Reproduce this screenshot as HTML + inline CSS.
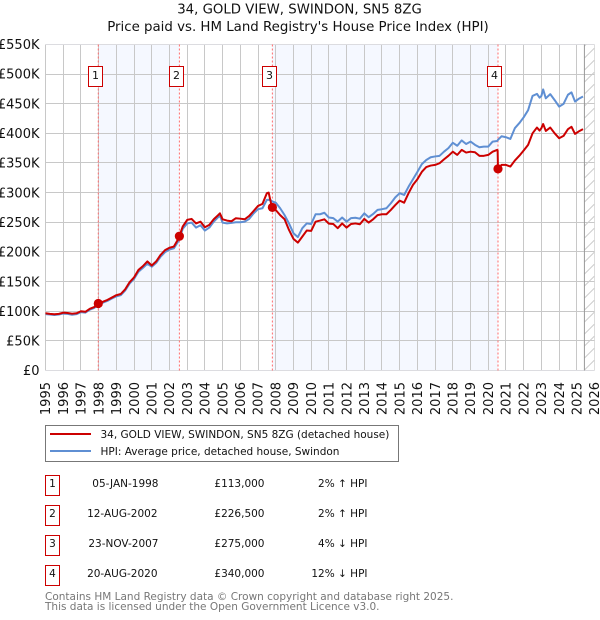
<!DOCTYPE html>
<html lang="en">
<head>
<meta charset="utf-8">
<title>34, GOLD VIEW, SWINDON, SN5 8ZG</title>
<style>
html,body{margin:0;padding:0;background:#fff;width:600px;height:620px;overflow:hidden}
svg{display:block;font-family:"DejaVu Sans","Liberation Sans",sans-serif}
</style>
</head>
<body>
<svg id="chart" width="600" height="620" viewBox="0 0 600 620">
  <defs>
    <pattern id="hatch" x="6.5" y="0" width="12" height="12" patternUnits="userSpaceOnUse">
      <line x1="0" y1="12" x2="12" y2="0" stroke="#cccccc" stroke-width="1"/>
    </pattern>
  </defs>
  <text x="299.5" y="13.5" text-anchor="middle" font-size="13.3" fill="#111">34, GOLD VIEW, SWINDON, SN5 8ZG</text>
  <text x="298" y="31" text-anchor="middle" font-size="13.35" fill="#111">Price paid vs. HM Land Registry's House Price Index (HPI)</text>
  <g id="shade"></g>
  <g id="grid"></g>
  <g id="hatchLayer"></g>
  <g id="saleLines"></g>
  <g id="series"></g>
  <g id="markers"></g>
  <g id="boxes"></g>
  <g id="yTicks" font-size="13" fill="#111"></g>
  <g id="xTicks" font-size="13" fill="#111"></g>

  <g>
    <rect x="45.5" y="425.5" width="353" height="36" fill="#fff" stroke="#777" stroke-width="1"/>
    <line x1="50" y1="434" x2="91" y2="434" stroke="#cc0000" stroke-width="2"/>
    <text x="100.5" y="438" font-size="10.5" fill="#111">34, GOLD VIEW, SWINDON, SN5 8ZG (detached house)</text>
    <line x1="50" y1="451" x2="91" y2="451" stroke="#5f8fd3" stroke-width="2"/>
    <text x="100.5" y="455" font-size="10.5" fill="#111">HPI: Average price, detached house, Swindon</text>
  </g>

  <g font-size="10.5" fill="#111">
    <g>
      <rect x="45.5" y="475.5" width="14" height="20" fill="#fff" stroke="#cc0000"/>
      <text x="52.5" y="487" text-anchor="middle">1</text>
      <text x="158.5" y="487" text-anchor="end">05-JAN-1998</text>
      <text x="264.5" y="487" text-anchor="end">£113,000</text>
      <text x="367.5" y="487" text-anchor="end">2% ↑ HPI</text>
    </g>
    <g>
      <rect x="45.5" y="505.5" width="14" height="20" fill="#fff" stroke="#cc0000"/>
      <text x="52.5" y="517" text-anchor="middle">2</text>
      <text x="157.5" y="517" text-anchor="end">12-AUG-2002</text>
      <text x="264.5" y="517" text-anchor="end">£226,500</text>
      <text x="367.5" y="517" text-anchor="end">2% ↑ HPI</text>
    </g>
    <g>
      <rect x="45.5" y="535.5" width="14" height="20" fill="#fff" stroke="#cc0000"/>
      <text x="52.5" y="547" text-anchor="middle">3</text>
      <text x="158.5" y="547" text-anchor="end">23-NOV-2007</text>
      <text x="264.5" y="547" text-anchor="end">£275,000</text>
      <text x="367.5" y="547" text-anchor="end">4% ↓ HPI</text>
    </g>
    <g>
      <rect x="45.5" y="565.5" width="14" height="20" fill="#fff" stroke="#cc0000"/>
      <text x="52.5" y="577" text-anchor="middle">4</text>
      <text x="157.5" y="577" text-anchor="end">20-AUG-2020</text>
      <text x="264.5" y="577" text-anchor="end">£340,000</text>
      <text x="367.5" y="577" text-anchor="end">12% ↓ HPI</text>
    </g>
  </g>

  <text x="45" y="600" font-size="10.5" fill="#777">Contains HM Land Registry data © Crown copyright and database right 2025.</text>
  <text x="45" y="610" font-size="10.5" fill="#777">This data is licensed under the Open Government Licence v3.0.</text>
</svg>
<script>
var yearTicks = [1995,1996,1997,1998,1999,2000,2001,2002,2003,2004,2005,2006,2007,2008,2009,2010,2011,2012,2013,2014,2015,2016,2017,2018,2019,2020,2021,2022,2023,2024,2025,2026];
var priceTicks = [0,50,100,150,200,250,300,350,400,450,500,550];
var priceTickLabels = ['£0','£50K','£100K','£150K','£200K','£250K','£300K','£350K','£400K','£450K','£500K','£550K'];

var dates = [
  1995,1995.25,1995.5,1995.75,
  1996,1996.25,1996.5,1996.75,
  1997,1997.25,1997.5,1997.75,
  1998,1998.25,1998.5,1998.75,
  1999,1999.25,1999.5,1999.75,
  2000,2000.25,2000.5,2000.75,
  2001,2001.25,2001.5,2001.75,
  2002,2002.25,2002.5,2002.56,2002.75,
  2003,2003.25,2003.5,2003.75,
  2004,2004.25,2004.5,2004.75,2004.85,
  2005,2005.25,2005.5,2005.75,
  2006,2006.25,2006.5,2006.75,
  2007,2007.25,2007.5,2007.6,2007.75,2007.81,
  2008,2008.25,2008.5,2008.75,
  2009,2009.25,2009.5,2009.75,
  2010,2010.25,2010.5,2010.75,
  2011,2011.25,2011.5,2011.75,
  2012,2012.25,2012.5,2012.75,
  2013,2013.25,2013.5,2013.75,
  2014,2014.25,2014.5,2014.75,
  2015,2015.25,2015.5,2015.75,
  2016,2016.25,2016.5,2016.75,
  2017,2017.25,2017.5,2017.75,
  2018,2018.25,2018.5,2018.75,
  2019,2019.25,2019.5,2019.75,
  2020,2020.25,2020.5,2020.53,2020.55,2020.75,
  2021,2021.25,2021.5,2021.75,
  2022,2022.25,2022.5,2022.75,2022.9,
  2023,2023.1,2023.25,2023.5,2023.75,
  2024,2024.25,2024.5,2024.7,2024.9,
  2025.1,2025.35
];
var priceSeries = [
  96.5,95.5,94.8,95.5,
  97.5,97,95.8,96.5,
  99.9,99,104,107,
  112.7,116,119,123,
  127,129,137,149,
  157,169.6,176,184,
  177,184,195,203,
  207,209,222,226.5,243,
  254,255.6,248,251,
  241.6,245.5,255,262,265,
  255,252.8,251.7,256.8,
  256,255,260.6,269,
  277.5,281,299,300,280,275,
  270.6,262,255,237,
  222,215.6,225.8,236,
  235.4,251,252.8,255,
  247.7,247,240,248,
  241,247,248,246.6,
  255.6,249.4,255,262,
  263.5,263.5,270.8,279,
  286.5,283,299,313,
  322.6,335,343,345.6,
  346.7,349.5,356,362,
  369,363.6,372,367.5,
  369,368,362,362,
  363.6,369,372,371,340,346.7,
  346.7,344,354,362,
  371,380.5,400,409.7,404.6,
  408.6,415.7,404,409.7,400,
  391.7,395.6,407,411,399,
  403,407
];
var hpiSeries = [
  95,94.5,93.5,94.5,
  96,95.5,94,95,
  98.5,97.5,102.5,105.5,
  110.5,114.5,117.5,121.5,
  125,127,135,146.5,
  154.5,166.5,173,180,
  175,181.5,192,199.5,
  204,206,218,222,239,
  248,249.4,241,245,
  236,241,251,258.5,261,
  249.4,248,249,250,
  250,251,255.6,265,
  272,273.6,287.7,288,286.5,285,
  283,273.6,262,248,
  231.5,225,240,248,
  247,263.5,263.5,266,
  258,257,251,258,
  251,257,257.6,256,
  265,258.5,264,270.8,
  272,273.6,282,292,
  299,296,310,322.6,
  335,348,355,359.6,
  361,362,369,375,
  384,379,388,382,
  386,380.5,376.5,377.6,
  377.6,386,387,388,389,395,
  393.4,390.5,408.6,417,
  427,439,463,466.5,460,
  463,474,459,466,456,
  445,449.5,465,469,453.5,
  458,462
];
var saleDates = [1997.98,2002.56,2007.81,2020.55];
var salePrices = [113,226.5,275,340];
var saleNumbers = ['1','2','3','4'];
var forecastStart = 2025.43;

var NS = 'http://www.w3.org/2000/svg';
function xAxis(year){ return 45.5 + (year - 1995) * 17.71; }
function yAxis(k){ return 370.5 - k * 0.593; }
function crisp(v){ return Math.floor(v) + 0.5; }
function node(tag, parent){
  var el = document.createElementNS(NS, tag);
  document.getElementById(parent).appendChild(el);
  return el;
}

var plotTop = crisp(yAxis(550)), plotBottom = crisp(yAxis(0));
var plotLeft = crisp(xAxis(1995)), plotRight = crisp(xAxis(2026));

// shaded spans: sale 1 to sale 2, sale 3 to sale 4
[[0,1],[2,3]].forEach(function(p){
  var r = node('rect','shade');
  
  
  r.setAttribute('x', xAxis(saleDates[p[0]]));
  r.setAttribute('y', plotTop);
  r.setAttribute('width', xAxis(saleDates[p[1]]) - xAxis(saleDates[p[0]]));
  r.setAttribute('height', plotBottom - plotTop);
  r.setAttribute('fill', '#f5f8ff');
});

yearTicks.forEach(function(year){
  var l = node('line','grid');
  
  
  var x = crisp(xAxis(year));
  l.setAttribute('x1', x); l.setAttribute('x2', x);
  l.setAttribute('y1', plotTop); l.setAttribute('y2', plotBottom);
  l.setAttribute('stroke', year === 2026 ? '#dddddd' : '#c8c8c8');
  var t = node('text','xTicks');
  
  
  t.setAttribute('text-anchor', 'end');
  t.setAttribute('transform', 'translate(' + (xAxis(year) + 4.7) + ',382) rotate(-90)');
  t.textContent = String(year);
});

priceTicks.forEach(function(k, i){
  var l = node('line','grid');
  
  
  var y = crisp(yAxis(k));
  l.setAttribute('x1', plotLeft); l.setAttribute('x2', plotRight);
  l.setAttribute('y1', y); l.setAttribute('y2', y);
  l.setAttribute('stroke', (k === 0 || k === 550) ? '#dcdce0' : '#c8c8c8');
  var t = node('text','yTicks');
  
  
  t.setAttribute('text-anchor', 'end');
  t.setAttribute('x', 39.5);
  t.setAttribute('y', yAxis(k) + 4.7);
  t.textContent = priceTickLabels[i];
});

var hatch = node('rect','hatchLayer');


hatch.setAttribute('x', xAxis(forecastStart));
hatch.setAttribute('y', plotTop);
hatch.setAttribute('width', plotRight - xAxis(forecastStart));
hatch.setAttribute('height', plotBottom - plotTop);
hatch.setAttribute('fill', 'url(#hatch)');
var edge = node('line','hatchLayer');


edge.setAttribute('x1', xAxis(forecastStart)); edge.setAttribute('x2', xAxis(forecastStart));
edge.setAttribute('y1', plotTop); edge.setAttribute('y2', plotBottom);
edge.setAttribute('stroke', '#999999');

saleDates.forEach(function(d){
  var l = node('line','saleLines');
  
  
  l.setAttribute('x1', xAxis(d)); l.setAttribute('x2', xAxis(d));
  l.setAttribute('y1', plotTop); l.setAttribute('y2', plotBottom);
  l.setAttribute('stroke', '#ff6b6b');
  l.setAttribute('stroke-width', '1');
  l.setAttribute('stroke-dasharray', '2 2');
});

function pathFor(values){
  return values.map(function(v, i){
    return (i ? 'L' : 'M') + xAxis(dates[i]).toFixed(2) + ' ' + yAxis(v).toFixed(2);
  }).join(' ');
}
var hpiLine = node('path','series');


hpiLine.setAttribute('d', pathFor(hpiSeries));
hpiLine.setAttribute('fill', 'none');
hpiLine.setAttribute('stroke', '#5f8fd3');
hpiLine.setAttribute('stroke-width', '2');
hpiLine.setAttribute('stroke-linejoin', 'round');

var priceLine = node('path','series');


priceLine.setAttribute('d', pathFor(priceSeries));
priceLine.setAttribute('fill', 'none');
priceLine.setAttribute('stroke', '#cc0000');
priceLine.setAttribute('stroke-width', '2');
priceLine.setAttribute('stroke-linejoin', 'round');

saleDates.forEach(function(d, i){
  var c = node('circle','markers');
  
  
  c.setAttribute('cx', xAxis(d));
  c.setAttribute('cy', yAxis(salePrices[i]));
  c.setAttribute('r', 4.6);
  c.setAttribute('fill', '#cc0000');

  var b = node('rect','boxes');
  
  
  b.setAttribute('x', Math.floor(xAxis(d)) - 10 + 0.5);
  b.setAttribute('y', 66.5);
  b.setAttribute('width', 14);
  b.setAttribute('height', 20);
  b.setAttribute('fill', '#ffffff');
  b.setAttribute('stroke', '#cc0000');

  var t = node('text','boxes');
  
  
  t.setAttribute('x', Math.floor(xAxis(d)) - 3 + 0.5);
  t.setAttribute('y', 79);
  t.setAttribute('text-anchor', 'middle');
  t.setAttribute('font-size', '11');
  t.setAttribute('fill', '#111');
  t.textContent = saleNumbers[i];
});
</script>
</body>
</html>
